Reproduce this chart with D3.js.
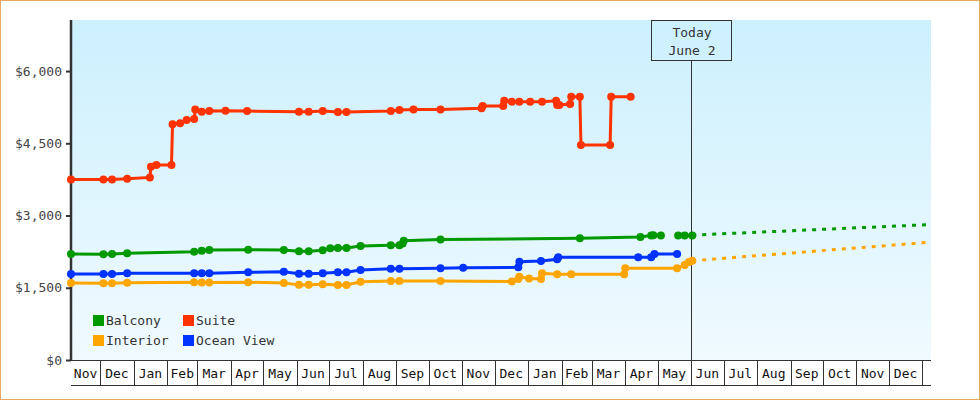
<!DOCTYPE html>
<html>
<head>
<meta charset="utf-8">
<script src="https://cdn.jsdelivr.net/npm/d3@7"></script>
<style>
  body { margin: 0; background: #fff; }
  text { font-family: "DejaVu Sans Mono", monospace; font-size: 13px; fill: #333; }
</style>
</head>
<body>
<div id="container"></div>
<script>
// cabin price history

let balcony = [
  ["2013-11-04", 2200], ["2013-12-04", 2195], ["2013-12-12", 2200], ["2013-12-26", 2215],
  ["2014-02-26", 2250], ["2014-03-05", 2270], ["2014-03-12", 2284], ["2014-04-17", 2290],
  ["2014-05-20", 2284], ["2014-06-03", 2256], ["2014-06-12", 2256], ["2014-06-25", 2277],
  ["2014-07-02", 2318], ["2014-07-09", 2325], ["2014-07-17", 2325], ["2014-07-30", 2367],
  ["2014-08-27", 2381], ["2014-09-04", 2381], ["2014-09-07", 2420], ["2014-09-08", 2475],
  ["2014-10-12", 2500], ["2015-02-18", 2528], ["2015-04-15", 2555], ["2015-04-25", 2583],
  ["2015-04-27", 2590], ["2015-05-04", 2583], ["2015-05-12", null], ["2015-05-20", 2583],
  ["2015-05-26", 2583], ["2015-06-02", 2583]
];

let suite = [
  ["2013-11-04", 3750], ["2013-12-04", 3750], ["2013-12-12", 3750], ["2013-12-26", 3765],
  ["2014-01-16", 3792], ["2014-01-17", 4013], ["2014-01-22", 4048], ["2014-02-05", 4048],
  ["2014-02-06", 4893], ["2014-02-13", 4914], ["2014-02-19", 4982], ["2014-02-26", 5003],
  ["2014-02-27", 5204], ["2014-03-05", 5155], ["2014-03-12", 5169], ["2014-03-27", 5176],
  ["2014-04-16", 5169], ["2014-06-03", 5155], ["2014-06-12", 5155], ["2014-06-25", 5169],
  ["2014-07-09", 5149], ["2014-07-17", 5149], ["2014-08-27", 5169], ["2014-09-04", 5190],
  ["2014-09-17", 5204], ["2014-10-12", 5204], ["2014-11-19", 5225], ["2014-11-20", 5273],
  ["2014-12-09", 5273], ["2014-12-10", 5383], ["2014-12-17", 5363], ["2014-12-24", 5363],
  ["2015-01-03", 5363], ["2015-01-14", 5363], ["2015-01-27", 5383], ["2015-01-28", 5293],
  ["2015-01-30", 5293], ["2015-02-09", 5314], ["2015-02-10", 5466], ["2015-02-18", 5466],
  ["2015-02-19", 4465], ["2015-03-18", 4465], ["2015-03-19", 5466], ["2015-04-06", 5466]
];

let interior = [
  ["2013-11-04", 1600], ["2013-12-04", 1592], ["2013-12-12", 1592], ["2013-12-26", 1605],
  ["2014-02-26", 1615], ["2014-03-05", 1610], ["2014-03-12", 1610], ["2014-04-17", 1615],
  ["2014-05-20", 1600], ["2014-06-03", 1560], ["2014-06-12", 1562], ["2014-06-25", 1572],
  ["2014-07-09", 1557], ["2014-07-17", 1557], ["2014-07-30", 1625], ["2014-08-27", 1640],
  ["2014-09-04", 1640], ["2014-10-12", 1640], ["2014-12-17", 1632], ["2014-12-23", 1681],
  ["2014-12-24", 1729], ["2015-01-02", 1690], ["2015-01-13", 1681], ["2015-01-14", 1800],
  ["2015-01-28", 1779], ["2015-02-10", 1779], ["2015-03-31", 1779], ["2015-04-01", 1904],
  ["2015-05-19", 1904], ["2015-05-26", 1972], ["2015-05-30", 2035], ["2015-06-02", 2061]
];

let oceanView = [
  ["2013-11-04", 1785], ["2013-12-04", 1785], ["2013-12-12", 1785], ["2013-12-26", 1800],
  ["2014-02-26", 1800], ["2014-03-05", 1800], ["2014-03-12", 1800], ["2014-04-17", 1821],
  ["2014-05-20", 1833], ["2014-06-03", 1790], ["2014-06-12", 1792], ["2014-06-25", 1800],
  ["2014-07-09", 1821], ["2014-07-17", 1821], ["2014-07-30", 1868], ["2014-08-27", 1896],
  ["2014-09-04", 1896], ["2014-10-12", 1904], ["2014-11-02", 1916], ["2014-12-23", 1924],
  ["2014-12-24", 2041], ["2015-01-13", 2055], ["2015-01-28", 2090], ["2015-01-29", 2132],
  ["2015-04-13", 2132], ["2015-04-25", 2132], ["2015-04-28", 2200], ["2015-05-19", 2200]
];

// dotted projections after today
let balconyForecast = [["2015-06-02", 2593], ["2016-01-09", 2813]];
let interiorForecast = [["2015-06-02", 2061], ["2016-01-09", 2448]];

let seriesNames = ["Balcony", "Suite", "Interior", "Ocean View"];
let seriesColors = ["#009900", "#FF3300", "#FFA500", "#0033FF"];
let priceTicks = [0, 1500, 3000, 4500, 6000];
let today = "2015-06-02";
let todayLabel = ["Today", "June 2"];
let dateRange = ["2013-11-04", "2016-01-09"];

let parse = d3.timeParse("%Y-%m-%d");

let plotLeft = 71, plotRight = 931, plotTop = 20, plotBottom = 360;

let viz = d3.select("#container")
  .append("svg")
    .attr("width", 980)
    .attr("height", 400)
;

// gradient for the plot area
let grad = viz.append("defs").append("linearGradient")
  .attr("id", "bg")
  .attr("x1", 0).attr("y1", 0).attr("x2", 0).attr("y2", 1);
grad.append("stop").attr("offset", "0%").attr("stop-color", "#CCF0FD");
grad.append("stop").attr("offset", "100%").attr("stop-color", "#F0FAFF");

viz.append("rect")
  .attr("x", 0.5).attr("y", 0.5)
  .attr("width", 979).attr("height", 399)
  .attr("fill", "white")
  .attr("stroke", "#E8A862")
;

viz.append("rect")
  .attr("x", plotLeft).attr("y", plotTop)
  .attr("width", plotRight - plotLeft).attr("height", plotBottom - plotTop)
  .attr("fill", "url(#bg)")
;

let x = d3.scaleTime()
  .domain(dateRange.map(parse))
  .range([plotLeft, plotRight]);

let y = d3.scaleLinear()
  .domain([0, 7060])
  .range([plotBottom, plotTop]);

// month boxes under the plot
let monthStarts = d3.timeMonth.range(d3.timeMonth.ceil(x.domain()[0]), x.domain()[1]);
let monthBoxes = [x.domain()[0]].concat(monthStarts);
let axisG = viz.append("g").attr("shape-rendering", "crispEdges");

axisG.append("line")
  .attr("x1", plotLeft).attr("x2", plotRight)
  .attr("y1", plotBottom + 0.5).attr("y2", plotBottom + 0.5)
  .attr("stroke", "#333");
axisG.append("line")
  .attr("x1", plotLeft).attr("x2", plotRight)
  .attr("y1", 385.5).attr("y2", 385.5)
  .attr("stroke", "#333");

axisG.selectAll(".mdiv")
  .data(monthStarts)
  .enter()
  .append("line")
    .attr("x1", d => Math.round(x(d)) + 0.5)
    .attr("x2", d => Math.round(x(d)) + 0.5)
    .attr("y1", plotBottom).attr("y2", 385)
    .attr("stroke", "#333");

axisG.selectAll(".mlabel")
  .data(monthBoxes.filter(d => d3.timeMonth.offset(d3.timeMonth.floor(d), 1) <= x.domain()[1]))
  .enter()
  .append("text")
    .text(d => d3.timeFormat("%b")(d))
    .attr("x", d => (x(d) + x(d3.timeMonth.offset(d3.timeMonth.floor(d), 1))) / 2)
    .attr("y", 378)
    .attr("text-anchor", "middle")
    .style("fill", "#111");

// y axis
let yAxis = d3.axisLeft(y)
  .tickValues(priceTicks)
  .tickSize(5)
  .tickPadding(4)
  .tickFormat(d => "$" + d3.format(",")(d));

let yG = viz.append("g")
  .attr("transform", "translate(" + plotLeft + ",0)")
  .call(yAxis);
yG.select(".domain").remove();
yG.selectAll(".tick line").attr("stroke", "#333").attr("stroke-width", 2);
yG.selectAll(".tick text")
  .style("font-family", "'DejaVu Sans Mono', monospace")
  .style("font-size", "13px")
  .style("fill", "#444");

viz.append("line")
  .attr("x1", plotLeft).attr("x2", plotLeft)
  .attr("y1", plotTop).attr("y2", plotBottom + 1)
  .attr("stroke", "#333")
  .attr("stroke-width", 2.5);

// today marker
let tx = Math.round(x(parse(today))) - 0.5;
viz.append("line")
  .attr("x1", tx).attr("x2", tx)
  .attr("y1", 60).attr("y2", plotBottom)
  .attr("stroke", "#333")
  .attr("shape-rendering", "crispEdges");
viz.append("rect")
  .attr("x", tx - 40).attr("y", plotTop + 0.5)
  .attr("width", 80).attr("height", 40)
  .attr("fill", "none")
  .attr("stroke", "#333")
  .attr("shape-rendering", "crispEdges");
viz.selectAll(".today")
  .data(todayLabel)
  .enter()
  .append("text")
    .text(d => d)
    .attr("x", tx + 0.5)
    .attr("y", (d, i) => 37 + i * 18)
    .attr("text-anchor", "middle");

// lines + dots
let line = d3.line()
  .defined(d => d[1] != null)
  .x(d => x(parse(d[0])))
  .y(d => y(d[1]));

let allSeries = [interior, oceanView, balcony, suite];
let allColors = [seriesColors[2], seriesColors[3], seriesColors[0], seriesColors[1]];

// forecasts first so dots sit on top
[[balconyForecast, seriesColors[0]], [interiorForecast, seriesColors[2]]].forEach(function (f) {
  viz.append("path")
    .attr("d", line(f[0]))
    .attr("fill", "none")
    .attr("stroke", f[1])
    .attr("stroke-width", 3)
    .attr("stroke-dasharray", "4,6");
});

allSeries.forEach(function (s, i) {
  viz.append("path")
    .attr("d", line(s))
    .attr("fill", "none")
    .attr("stroke", allColors[i])
    .attr("stroke-width", 3);

  viz.selectAll(null)
    .data(s.filter(d => d[1] != null))
    .enter()
    .append("circle")
      .attr("cx", d => x(parse(d[0])))
      .attr("cy", d => y(d[1]))
      .attr("r", 4)
      .attr("fill", allColors[i]);
});

// legend
let legend = viz.append("g");
seriesNames.forEach(function (name, i) {
  let lx = 93 + (i % 2) * 90;
  let ly = 315 + Math.floor(i / 2) * 20;
  legend.append("rect")
    .attr("x", lx).attr("y", ly)
    .attr("width", 11).attr("height", 11)
    .attr("fill", seriesColors[i]);
  legend.append("text")
    .text(name)
    .attr("x", lx + 13)
    .attr("y", ly + 10);
});
</script>
</body>
</html>
